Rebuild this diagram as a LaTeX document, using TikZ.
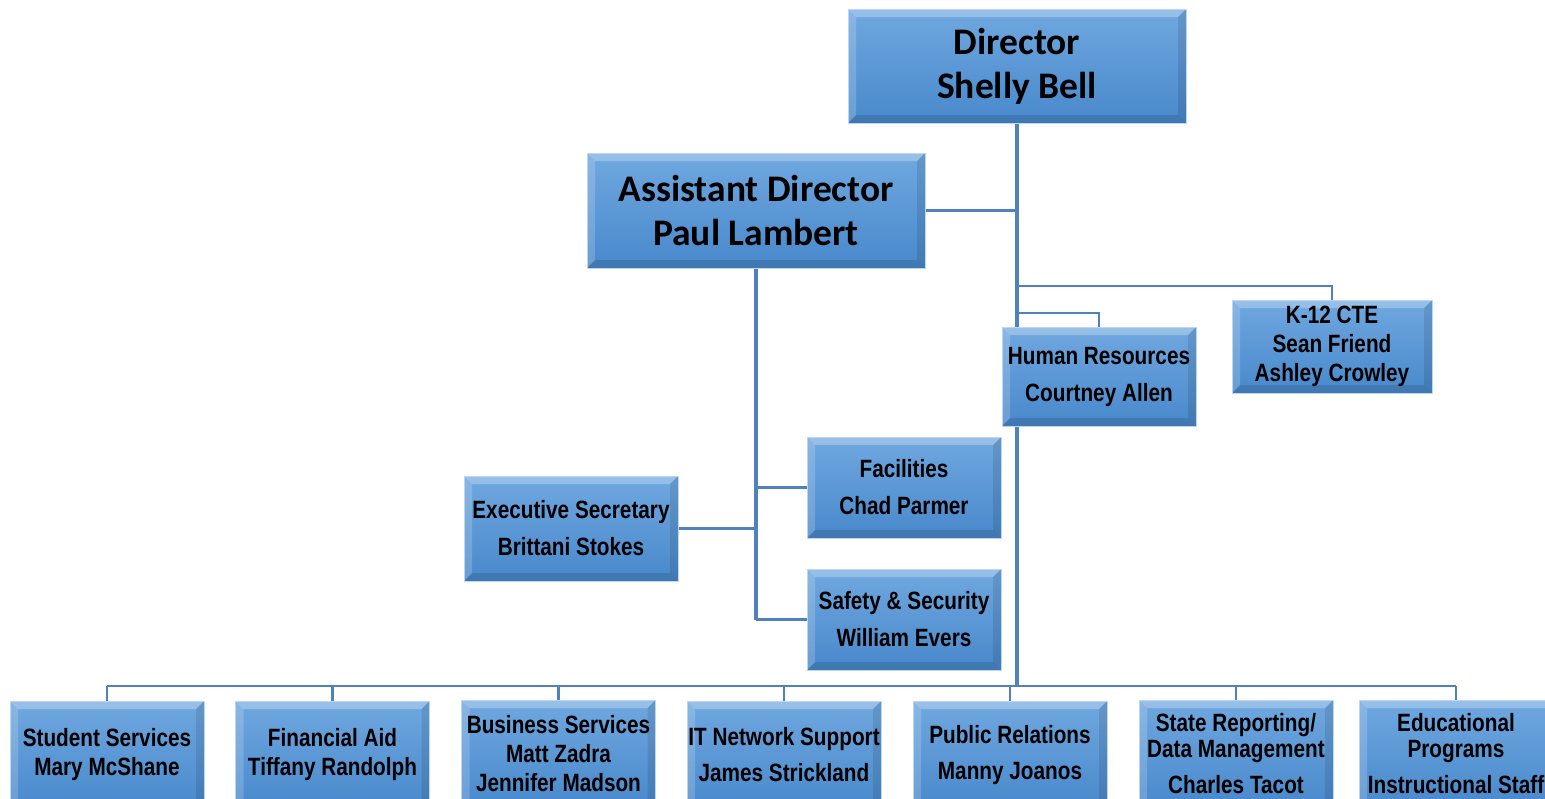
\documentclass[tikz,border=0pt]{standalone}
\usepackage{fontspec}
\usetikzlibrary{backgrounds}
\setmainfont{Carlito}
\newfontfamily\narrowfont[FakeStretch=0.83]{Liberation Sans}

\definecolor{boxtop}{RGB}{112,168,224}
\definecolor{boxbot}{RGB}{72,136,203}
\definecolor{boxedge}{RGB}{190,215,240}
\definecolor{linkblue}{RGB}{79,129,189}

\tikzset{
  bevelbox/.style={rectangle, inner sep=0pt, align=center,
    draw=boxedge, line width=0.8pt, top color=boxtop, bottom color=boxbot,
    path picture={
      \fill[white,opacity=0.28] (path picture bounding box.north west) -- (path picture bounding box.north east)
        -- ([xshift=-8pt,yshift=-8pt]path picture bounding box.north east) -- ([xshift=8pt,yshift=-8pt]path picture bounding box.north west) -- cycle;
      \fill[white,opacity=0.18] (path picture bounding box.north west) -- (path picture bounding box.south west)
        -- ([xshift=8pt,yshift=8pt]path picture bounding box.south west) -- ([xshift=8pt,yshift=-8pt]path picture bounding box.north west) -- cycle;
      \fill[black,opacity=0.10] (path picture bounding box.north east) -- (path picture bounding box.south east)
        -- ([xshift=-8pt,yshift=8pt]path picture bounding box.south east) -- ([xshift=-8pt,yshift=-8pt]path picture bounding box.north east) -- cycle;
      \fill[black,opacity=0.12] (path picture bounding box.south west) -- (path picture bounding box.south east)
        -- ([xshift=-8pt,yshift=8pt]path picture bounding box.south east) -- ([xshift=8pt,yshift=8pt]path picture bounding box.south west) -- cycle;
    }},
  bigbox/.style={bevelbox, minimum width=338pt, minimum height=114pt,
    font=\fontsize{37.5}{44}\selectfont\bfseries},
  unitbox/.style={bevelbox, minimum width=194pt, minimum height=100pt,
    font=\narrowfont\fontsize{25}{29}\selectfont\bfseries},
  link/.style={draw=linkblue, line width=2.2pt},
  trunk/.style={draw=linkblue, line width=3.2pt}
}

\begin{document}
\begin{tikzpicture}[x=1pt,y=-1pt]
  \useasboundingbox (0,0) rectangle (1545,798);
  \clip (0,0) rectangle (1545,798);

  % top of the chart
  \node[bigbox] (dir) at (1017,66) {Director\\Shelly Bell};
  \node[bigbox, minimum height=115pt] (asst) at (756,210.5) {Assistant Director\\Paul Lambert};

  % units next to the director
  \node[unitbox, minimum height=99pt] (hr) at (1099,376.5) {Human Resources\\[8pt]Courtney Allen};
  \node[unitbox, minimum width=200pt, minimum height=93pt] (k12) at (1332,346.5) {K-12 CTE\\Sean Friend\\Ashley Crowley};

  % units under the assistant director
  \node[unitbox, minimum height=101pt] (fac) at (904,487.5) {Facilities\\[8pt]Chad Parmer};
  \node[unitbox, minimum width=214pt, minimum height=105pt] (exec) at (571,528.5) {Executive Secretary\\[8pt]Brittani Stokes};
  \node[unitbox, minimum height=101pt] (safe) at (904,619.5) {Safety \& Security\\[8pt]William Evers};

  % bottom row
  \node[unitbox, minimum height=108pt] (b1) at (107,755) {Student Services\\Mary McShane};
  \node[unitbox, minimum height=108pt] (b2) at (332.5,755) {Financial Aid\\Tiffany Randolph};
  \node[unitbox, minimum height=108pt] (b3) at (558.5,754) {Business Services\\Matt Zadra\\Jennifer Madson};
  \node[unitbox, minimum height=108pt] (b4) at (784,755) {IT Network Support\\[7pt]James Strickland};
  \node[unitbox, minimum height=108pt] (b5) at (1010,755) {Public Relations\\[7pt]Manny Joanos};
  \node[unitbox, minimum height=108pt] (b6) at (1236,754) {State Reporting/\\[-3pt]Data Management\\[7pt]Charles Tacot};
  \node[unitbox, minimum height=108pt] (b7) at (1456,754) {Educational\\[-3pt]Programs\\[7pt]Instructional Staff};

  \coordinate (bus) at (1017,686);
  \coordinate (kj) at (1017,286);
  \coordinate (hj) at (1017,313);

  % connectors, behind the boxes
  \begin{scope}[on background layer]
    \draw[trunk] (dir.south) -- (bus);
    \draw[link] (asst.east) -- (asst.east -| dir.south);
    \draw[link] (kj) -| (k12.north);
    \draw[link] (hj) -| (hr.north);
    \draw[trunk] (asst.south) -- (asst.south |- safe.west);
    \draw[link] (exec.east) -- (exec.east -| asst.south);
    \draw[link] (fac.west) -- (fac.west -| asst.south);
    \draw[link] (safe.west) -- (safe.west -| asst.south);
    \draw[link] (b1.north |- bus) -- (b7.north |- bus);
    \foreach \n in {1,...,7}
      \draw[link] (b\n.north) -- (b\n.north |- bus);
  \end{scope}
\end{tikzpicture}
\end{document}
